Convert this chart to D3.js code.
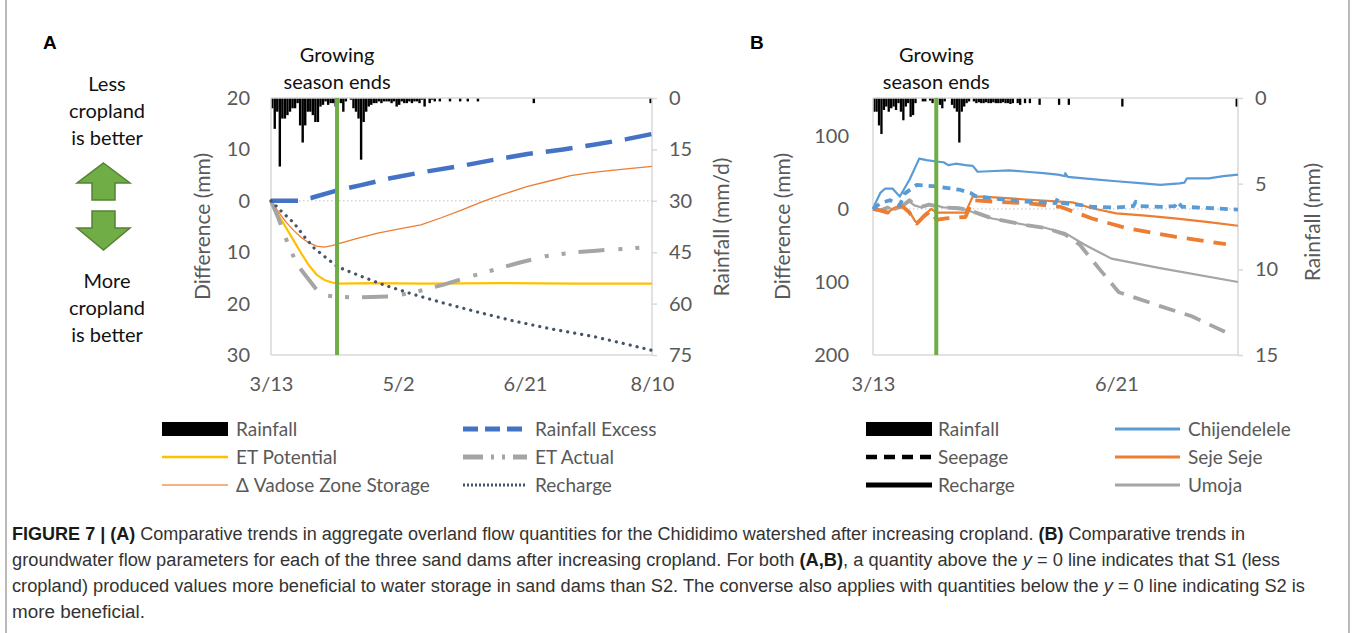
<!DOCTYPE html>
<html>
<head>
<meta charset="utf-8">
<script src="https://cdn.jsdelivr.net/npm/d3@7"></script>
<style>
  body { margin: 0; background: #fff; }
  svg text { font-family: Lato, "Open Sans", sans-serif; }
  .caption text { font-family: "Liberation Sans Narrow", "Liberation Sans", Arial, sans-serif; }
</style>
</head>
<body>
<script>
// ---- data (day 0 = 3/13) ----
const startDate = new Date(2018, 2, 13);
const seasonEndDay = 26;

const xTicksA = [0, 50, 100, 150];
const xTicksB = [0, 100];
const diffTicksA = [20, 10, 0, -10, -20, -30];
const rainTicksA = [0, 15, 30, 45, 60, 75];
const diffTicksB = [100, 0, -100, -200];
const rainTicksB = [0, 5, 10, 15];

// daily rainfall [day, mm/d]
const rainA = [[0,3],[1,9],[2,4],[3,20],[4,6],[5,6],[6,5],[7,4],[8,3],[9,3],[10,1.5],[11,8],[12,13],[13,8],
  [14,4],[15,4],[16,5],[17,7],[18,7],[19,2.5],[20,2],[21,1],[22,2],[23,1.5],[24,1.5],[25,2.5],[27,1.5],[28,4],
  [29,1],[31,0.5],[32,3],[33,4],[34,6],[35,18],[36,7],[37,4],[38,2.5],[39,2],[40,1.5],[41,1.5],[42,1],[43,1.5],
  [44,1],[45,1],[46,1],[47,1.5],[48,1],[49,2.5],[50,2],[51,1],[52,1.5],[53,1.5],[54,1],[55,1.5],[56,1],[57,1],
  [58,1.5],[59,0.5],[60,2.5],[62,1.5],[63,0.5],[64,1],[66,1],[70,1],[74,1],[77,1],[81,1],[103,1.5],[149,1.5]];

const rainB = [[0,0.8],[1,0.8],[2,1.6],[3,2.1],[4,0.7],[5,0.5],[6,0.8],[7,0.6],[8,0.5],[9,0.7],[10,0.3],
  [11,0.8],[12,1.3],[13,0.5],[14,0.3],[15,1.1],[16,1.0],[17,0.3],[20,0.2],[21,0.2],[23,0.15],[24,0.3],[27,0.4],
  [28,0.6],[29,0.2],[32,0.4],[33,0.6],[34,0.8],[35,2.6],[36,0.8],[37,0.5],[38,0.3],[39,0.2],[41,0.2],[42,0.3],
  [43,0.25],[44,0.3],[45,0.3],[46,0.25],[47,0.3],[48,0.3],[49,0.25],[50,0.3],[51,0.3],[52,0.3],[53,0.25],
  [54,0.3],[55,0.3],[56,0.35],[57,0.3],[59,0.3],[60,0.4],[62,0.3],[64,0.3],[68,0.4],[76,0.4],[80,0.4],
  [102,0.5],[149,0.5]];

// panel A series [day, difference mm]
const rainfallExcess = [[0,0],[11,0],[12,0.3],[16,0.6],[26,2],[35,3],[48,4.5],[60,5.6],[75,6.8],[88,8],
  [101,9.1],[115,10],[127,10.9],[140,12],[150,13]];
const etPotential = [[0,0],[3,-2.8],[6,-5.3],[9,-7.8],[12,-10.3],[15,-12.6],[18,-14.4],[21,-15.4],[24,-15.9],
  [27,-16.1],[40,-16],[60,-16.1],[90,-16],[120,-16.1],[150,-16.1]];
const etActual = [[0,0],[3,-3.5],[6,-7.5],[9,-11],[12,-13.5],[15,-15.4],[18,-17.3],[21,-18.4],[26,-18.7],
  [35,-18.8],[48,-18.6],[58,-17.6],[68,-16.3],[78,-14.8],[88,-13.4],[98,-12],[108,-10.8],[118,-10.1],
  [128,-9.7],[140,-9.3],[150,-9]];
const vadoseStorage = [[0,0],[3,-2.2],[6,-4.2],[9,-5.8],[12,-7.2],[15,-8.2],[18,-8.8],[21,-9],[24,-8.7],
  [27,-8.3],[34,-7.3],[42,-6.3],[50,-5.5],[59,-4.7],[67,-3.3],[75,-1.8],[83,-0.2],[91,1.2],[101,2.8],
  [110,3.9],[118,4.9],[126,5.5],[134,5.9],[142,6.3],[150,6.7]];
const rechargeA = [[0,0],[4,-2],[9,-4.3],[13,-6.9],[17,-9.2],[22,-11.2],[26,-12.8],[35,-14.6],[44,-16.3],
  [56,-18.2],[68,-19.9],[81,-21.6],[94,-23.2],[110,-24.9],[127,-26.4],[140,-27.9],[150,-29.1]];

// panel B series [day, difference mm]
const chijRecharge = [[0,0],[1.5,8],[3.5,22],[5.5,28],[8.5,28],[11.8,17],[15,40],[19.3,69],[22,67],[26,65],
  [29,64],[31.6,60],[34,62],[38,60],[41.2,59],[43.3,51],[50,52],[56,53],[63,51],[70,49],[76,47],[79,45],
  [79.6,49],[80.5,44],[90.6,41],[100,38],[111,35],[118,33],[126,35],[128.5,36],[129,42],[138,42],[144,45],[150,47]];
const chijSeepage = [[0,0],[3,8],[7,12],[11,5],[13.8,21],[18,33],[22,32],[26,31],[30,29],[36,26],[40,22],
  [42.6,18],[50,14],[57,12],[63,10],[70,9],[75,8],[76.5,15],[78,8],[84,6],[90.6,3],[100,2],[107,4],[108,10],
  [110,4],[118,3],[124,4],[125,10],[127,3],[140,1],[150,-1]];
const sejeRecharge = [[0,0],[3,-2],[6,-5],[9,2],[12.5,5],[15.2,-4],[17.3,-15],[18.6,-19],[21.4,-8],[24,0],
  [26.8,-5],[38.5,-5],[41.2,17],[45,17],[63,13],[82,9],[90.5,1],[100,-6],[112,-9],[124.8,-13],[138,-18],[150,-23]];
const sejeSeepage = [[0,0],[3,-2],[6,-5],[9,2],[12.5,4],[15.2,-5],[17.3,-16],[18.6,-20],[21.4,-10],[24,-2],
  [26.2,-15],[30,-13],[38.5,-11],[41.2,12],[50,10],[63,8],[77,3],[90.5,-13],[104,-26],[124.8,-38],[145,-48]];
const umojaRecharge = [[0,0],[3,-2],[6,2],[9,-1],[12,3],[15.2,10],[17,5],[20,2],[23,6],[26.2,5],[29,2],
  [35.8,2],[39.9,-2],[49.5,-13],[63,-22],[71.4,-26],[79.6,-33],[87.8,-49],[98.8,-68],[118,-81],[150,-100]];
const umojaSeepage = [[0,0],[3,-2],[6,2],[9,-1],[12,4],[15.2,12],[17,6],[20,3],[23,6],[26.2,4],[29,2],
  [35.8,1],[39.9,-1],[49.5,-13],[63,-22],[71.4,-26],[79.6,-35],[85,-49],[93.3,-82],[101.5,-114],[118,-133],
  [131.6,-147],[147.4,-172]];

const legendNamesA = ["Rainfall", "Rainfall Excess", "ET Potential", "ET Actual", "\u0394 Vadose Zone Storage", "Recharge"];
const legendNamesB = ["Rainfall", "Chijendelele", "Seepage", "Seje Seje", "Recharge", "Umoja"];

const captionLines = [
  [["b", "FIGURE 7 | (A)"], ["", " Comparative trends in aggregate overland flow quantities for the Chididimo watershed after increasing cropland. "], ["b", "(B)"], ["", " Comparative trends in"]],
  [["", "groundwater flow parameters for each of the three sand dams after increasing cropland. For both "], ["b", "(A,B)"], ["", ", a quantity above the "], ["i", "y"], ["", " = 0 line indicates that S1 (less"]],
  [["", "cropland) produced values more beneficial to water storage in sand dams than S2. The converse also applies with quantities below the "], ["i", "y"], ["", " = 0 line indicating S2 is"]],
  [["", "more beneficial."]]
];

// ---- styles ----
const styles = {
  excess:   { stroke: "#4472C4", width: 4.5, dash: "27,13" },
  etPot:    { stroke: "#FFC000", width: 2.2 },
  etAct:    { stroke: "#A5A5A5", width: 4, dash: "26,14,4,13,4,13" },
  vadose:   { stroke: "#ED7D31", width: 1.3 },
  recharge: { stroke: "#44546A", width: 3.2, dash: "0.1,7", cap: "round" },
  chijR:    { stroke: "#5B9BD5", width: 2.2 },
  chijS:    { stroke: "#5B9BD5", width: 3.8, dash: "8,6" },
  sejeR:    { stroke: "#ED7D31", width: 2.2 },
  sejeS:    { stroke: "#ED7D31", width: 3.8, dash: "17,10" },
  umojaR:   { stroke: "#A5A5A5", width: 2.2 },
  umojaS:   { stroke: "#A5A5A5", width: 3.8, dash: "17,10" },
};

const W = 1358, H = 633;
const axisGrey = "#D9D9D9";
const labelGrey = "#595959";
const green = "#70AD47";

let svg = d3.select("body").append("svg")
  .attr("width", W).attr("height", H)
  .attr("viewBox", "0 0 " + W + " " + H);

svg.append("rect").attr("width", W).attr("height", H).attr("fill", "#fff");

// figure frame (only the sides are visible)
svg.append("line").attr("x1", 6).attr("x2", 6).attr("y1", 0).attr("y2", H)
  .attr("stroke", "#8c8c8c").attr("stroke-width", 1.2);
svg.append("line").attr("x1", 1349).attr("x2", 1349).attr("y1", 0).attr("y2", H)
  .attr("stroke", "#8c8c8c").attr("stroke-width", 1.2);

let dayDate = d => d3.timeDay.offset(startDate, d);
let fmtDate = d3.timeFormat("%-m/%-d");

function drawPanel(cfg) {
  let g = svg.append("g");
  let x = d3.scaleTime().domain([startDate, dayDate(150)]).range([cfg.left, cfg.right]);
  let y = d3.scaleLinear().domain(cfg.diffDomain).range([cfg.bottom, cfg.top]);
  let yr = d3.scaleLinear().domain(cfg.rainDomain).range([cfg.top, cfg.bottom]);

  // rainfall hanging from the top
  let dayW = x(dayDate(1)) - x(dayDate(0));
  g.selectAll(".rainBar")
    .data(cfg.rain)
    .enter()
    .append("rect")
    .attr("class", "rainBar")
    .attr("x", d => x(dayDate(d[0])))
    .attr("y", cfg.top)
    .attr("width", dayW * 0.95)
    .attr("height", d => yr(d[1]) - cfg.top)
    .attr("fill", "#000");

  // frame: top, left, bottom, right axis lines
  let box = [[cfg.left, cfg.top, cfg.right, cfg.top], [cfg.left, cfg.top, cfg.left, cfg.bottom],
             [cfg.left, cfg.bottom, cfg.right, cfg.bottom], [cfg.right, cfg.top, cfg.right, cfg.bottom]];
  g.selectAll(".frame").data(box).enter().append("line")
    .attr("x1", d => d[0]).attr("y1", d => d[1]).attr("x2", d => d[2]).attr("y2", d => d[3])
    .attr("stroke", axisGrey).attr("stroke-width", 1.5);

  // zero line
  g.append("line")
    .attr("x1", cfg.left).attr("x2", cfg.right)
    .attr("y1", y(0)).attr("y2", y(0))
    .attr("stroke", "#BFBFBF").attr("stroke-width", 1).attr("stroke-dasharray", "1.5,2.5");

  // right axis (rainfall), ticks outward
  let rightAxis = d3.axisRight(yr).tickValues(cfg.rainTicks).tickSize(5).tickPadding(12);
  let ra = g.append("g").attr("transform", "translate(" + cfg.right + ",0)").call(rightAxis);
  ra.select(".domain").remove();
  ra.selectAll(".tick line").attr("stroke", axisGrey).attr("stroke-width", 1.5);
  ra.selectAll(".tick text").attr("fill", labelGrey).style("font-size", "20px");

  // left axis (difference), labels shown without sign
  let leftAxis = d3.axisLeft(y).tickValues(cfg.diffTicks).tickSize(0).tickPadding(cfg.leftPad)
    .tickFormat(d => Math.abs(d));
  let la = g.append("g").attr("transform", "translate(" + cfg.left + ",0)").call(leftAxis);
  la.select(".domain").remove();
  la.selectAll(".tick text").attr("fill", labelGrey).style("font-size", "20px");

  let bottomAxis = d3.axisBottom(x).tickValues(cfg.xTicks.map(dayDate)).tickSize(0).tickPadding(22)
    .tickFormat(fmtDate);
  let ba = g.append("g").attr("transform", "translate(0," + cfg.bottom + ")").call(bottomAxis);
  ba.select(".domain").remove();
  ba.selectAll(".tick text").attr("fill", labelGrey).style("font-size", "20px");

  g.append("text")
    .attr("transform", "translate(" + cfg.leftTitleX + "," + (cfg.top + cfg.bottom) / 2 + ") rotate(-90)")
    .attr("text-anchor", "middle").attr("dy", "0.35em")
    .attr("fill", labelGrey).style("font-size", "21px")
    .text("Difference (mm)");
  g.append("text")
    .attr("transform", "translate(" + cfg.rightTitleX + "," + cfg.rightTitleY + ") rotate(-90)")
    .attr("text-anchor", "middle").attr("dy", "0.35em")
    .attr("fill", labelGrey).style("font-size", "21px")
    .text(cfg.rainTitle);

  let line = d3.line().x(d => x(dayDate(d[0]))).y(d => y(d[1]));
  cfg.series.forEach(s => {
    let st = styles[s.style];
    g.append("path")
      .datum(s.data)
      .attr("d", line)
      .attr("fill", "none")
      .attr("stroke", st.stroke)
      .attr("stroke-width", st.width)
      .attr("stroke-dasharray", st.dash || null)
      .attr("stroke-linecap", st.cap || "butt")
      .attr("stroke-linejoin", "round");
  });

  // growing season marker
  let gx = x(dayDate(seasonEndDay));
  g.append("line")
    .attr("x1", gx).attr("x2", gx).attr("y1", cfg.top).attr("y2", cfg.bottom)
    .attr("stroke", green).attr("stroke-width", 4);
  g.append("text").attr("x", gx).attr("y", 62).attr("text-anchor", "middle")
    .style("font-size", "20px").attr("fill", "#111").text("Growing");
  g.append("text").attr("x", gx).attr("y", 89).attr("text-anchor", "middle")
    .style("font-size", "20px").attr("fill", "#111").text("season ends");

  g.append("text").attr("x", cfg.letterX).attr("y", 49)
    .style("font-family", "'Liberation Sans', Arial, sans-serif")
    .style("font-weight", "bold").style("font-size", "19px").text(cfg.letter);
}

drawPanel({
  letter: "A", letterX: 43,
  left: 271, right: 652, top: 98, bottom: 355,
  diffDomain: [-30, 20], rainDomain: [0, 75],
  diffTicks: diffTicksA, rainTicks: rainTicksA, xTicks: xTicksA,
  leftPad: 21, leftTitleX: 203, rightTitleX: 722, rightTitleY: 227,
  rainTitle: "Rainfall (mm/d)",
  rain: rainA,
  series: [
    { data: etPotential, style: "etPot" },
    { data: vadoseStorage, style: "vadose" },
    { data: etActual, style: "etAct" },
    { data: rainfallExcess, style: "excess" },
    { data: rechargeA, style: "recharge" },
  ],
});

drawPanel({
  letter: "B", letterX: 750,
  left: 873, right: 1238, top: 98, bottom: 355,
  diffDomain: [-200, 152], rainDomain: [0, 15],
  diffTicks: diffTicksB, rainTicks: rainTicksB, xTicks: xTicksB,
  leftPad: 24, leftTitleX: 783, rightTitleX: 1313, rightTitleY: 222,
  rainTitle: "Rainfall (mm)",
  rain: rainB,
  series: [
    { data: umojaSeepage, style: "umojaS" },
    { data: umojaRecharge, style: "umojaR" },
    { data: sejeSeepage, style: "sejeS" },
    { data: sejeRecharge, style: "sejeR" },
    { data: chijSeepage, style: "chijS" },
    { data: chijRecharge, style: "chijR" },
  ],
});

// ---- left-side annotation ----
let note = svg.append("g");
[["Less", 91], ["cropland", 118], ["is better", 145], ["More", 288], ["cropland", 315], ["is better", 342]]
  .forEach(t => {
    note.append("text").attr("x", 107).attr("y", t[1]).attr("text-anchor", "middle")
      .style("font-size", "20px").attr("fill", "#111").text(t[0]);
  });
let upArrow = [[103.5, 163], [130, 183], [115, 183], [115, 200], [92, 200], [92, 183], [77, 183]];
let downArrow = [[92, 211], [115, 211], [115, 228], [130, 228], [103.5, 250], [77, 228], [92, 228]];
[upArrow, downArrow].forEach(p => {
  note.append("path")
    .attr("d", d3.line()(p) + "Z")
    .attr("fill", green).attr("stroke", "#548235").attr("stroke-width", 1.5)
    .attr("stroke-linejoin", "miter");
});

// ---- legends ----
function legendSymbol(g, x0, x1, yy, kind) {
  if (kind.type === "rect") {
    g.append("rect").attr("x", x0).attr("y", yy - 7).attr("width", x1 - x0).attr("height", 14).attr("fill", "#000");
  } else {
    g.append("line").attr("x1", x0).attr("x2", x1).attr("y1", yy).attr("y2", yy)
      .attr("stroke", kind.stroke).attr("stroke-width", kind.width)
      .attr("stroke-dasharray", kind.dash || null)
      .attr("stroke-linecap", kind.cap || "butt");
  }
}

let legendRowsY = [429, 457, 485];
function drawLegend(names, kinds, cols) {
  let g = svg.append("g");
  names.forEach((name, i) => {
    let col = cols[i % 2];
    let yy = legendRowsY[Math.floor(i / 2)];
    legendSymbol(g, col[0], col[1], yy, kinds[i]);
    g.append("text").attr("x", col[2]).attr("y", yy).attr("dy", "0.35em")
      .attr("fill", labelGrey).style("font-size", "19px").text(name);
  });
}

drawLegend(legendNamesA, [
  { type: "rect" },
  { stroke: "#4472C4", width: 5, dash: "15,7" },
  { stroke: "#FFC000", width: 2.5 },
  { stroke: "#A5A5A5", width: 5, dash: "20,8,3,8,3,8" },
  { stroke: "#F4B183", width: 2 },
  { stroke: "#44546A", width: 2.8, dash: "2,2" },
], [[162, 228, 236], [463, 527, 535]]);

drawLegend(legendNamesB, [
  { type: "rect" },
  { stroke: "#5B9BD5", width: 3 },
  { stroke: "#000", width: 4.5, dash: "11,7" },
  { stroke: "#ED7D31", width: 3 },
  { stroke: "#000", width: 5 },
  { stroke: "#A5A5A5", width: 3 },
], [[866, 932, 938], [1115, 1180, 1188]]);

// ---- caption ----
let cap = svg.append("g").attr("class", "caption");
let capY = [540, 566, 592, 618];
let capLen = [1233, 1268, 1293, 133];
captionLines.forEach((parts, i) => {
  let t = cap.append("text").attr("x", 12).attr("y", capY[i])
    .style("font-size", "18px").attr("fill", "#333")
    .attr("textLength", capLen[i]).attr("lengthAdjust", "spacingAndGlyphs");
  parts.forEach(p => {
    let s = t.append("tspan").text(p[1]);
    if (p[0] === "b") s.style("font-weight", "bold").attr("fill", "#1a1a1a");
    if (p[0] === "i") s.style("font-style", "italic");
  });
});
</script>
</body>
</html>
